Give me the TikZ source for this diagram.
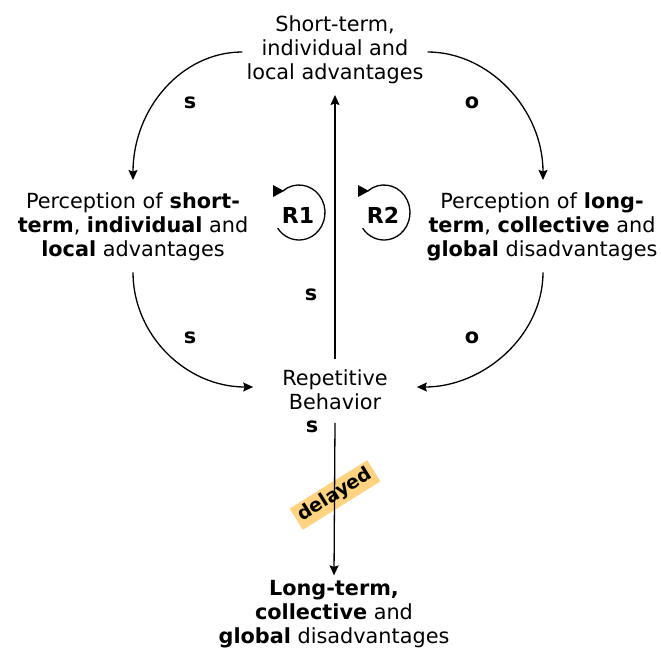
\documentclass[tikz,border=0pt]{standalone}
\usepackage{fontspec}
\setmainfont{DejaVu Sans}
\usetikzlibrary{arrows.meta,calc}
\definecolor{delayfill}{HTML}{FFD37F}
\pgfdeclarelayer{background}
\pgfsetlayers{background,main}
\tikzset{
  txt/.style={align=center,inner sep=0pt,font=\fontsize{20.8}{24}\selectfont},
  lbl/.style={inner sep=0pt,font=\fontsize{20.8}{24}\selectfont\bfseries},
  rlbl/.style={inner sep=0pt,font=\fontsize{22}{26}\selectfont\bfseries},
  arr/.style={line width=1.3pt,-{Stealth[length=10pt,width=9pt,inset=1.5pt]}},
  loopline/.style={line width=1.3pt},
  delaybox/.style={inner xsep=3.5pt,inner ysep=3pt,rotate=32,font=\fontsize{19}{21}\selectfont\bfseries}
}
\begin{document}
\begin{tikzpicture}[x=1pt,y=-1pt]
\useasboundingbox (0,0) rectangle (661,651);
% nodes
\node[txt] (top) at (335,50) {Short-term,\\individual and\\local advantages};
\node[txt] (left) at (133,227) {Perception of \textbf{short-}\\\textbf{term}, \textbf{individual} and\\\textbf{local} advantages};
\node[txt] (right) at (542,227) {Perception of \textbf{long-}\\\textbf{term}, \textbf{collective} and\\\textbf{global} disadvantages};
\node[txt] (rep) at (335,390) {Repetitive\\Behavior};
\node[txt] (bot) at (334,614) {\textbf{Long-term,}\\\textbf{collective} and\\\textbf{global} disadvantages};
% connectors
\draw[arr] ([shift={(-4,2)}]top.west) .. controls +(-61,0) and +(0,-71) .. ([shift={(0,-12.7)}]left.north);
\draw[arr] ([shift={(4,2)}]top.east) .. controls +(61,0) and +(0,-71) .. ([shift={(1,-12.7)}]right.north);
\draw[arr] ([shift={(0,11)}]left.south) .. controls +(0,63) and +(-67,0) .. ([shift={(-29,-3)}]rep.west);
\draw[arr] ([shift={(1,11)}]right.south) .. controls +(0,63) and +(67,0) .. ([shift={(29,-3)}]rep.east);
\draw[arr] ([shift={(0,-10.6)}]rep.north) -- ([shift={(0,10.7)}]top.south);
\draw[arr] ([shift={(0,12.6)}]rep.south) -- ([shift={(0,-4.6)}]bot.north);
% polarity labels
\node[lbl] (s1) at (190,103) {s};
\node[lbl] (o1) at (472,103) {o};
\node[lbl] (s2) at (311,295) {s};
\node[lbl] (s3) at (190,338) {s};
\node[lbl] (o2) at (472,338) {o};
\node[lbl] (s4) at (312,427) {s};
% delayed tag (fill behind the line, text above it)
\node[delaybox] (delay) at (335,495) {delayed};
\begin{pgfonlayer}{background}
\fill[delayfill] (delay.north west) -- (delay.north east) -- (delay.south east) -- (delay.south west) -- cycle;
\end{pgfonlayer}
% loop markers
\node[rlbl] (r1) at (298,215) {R1};
\node[rlbl] (r2) at (383,215) {R2};
\draw[loopline] (299,212.5) ++(232:26 and 27.5) arc[start angle=232,end angle=505,x radius=26,y radius=27.5];
\fill (273,185) -- (273,197) -- (284,191) -- cycle;
\draw[loopline] (384,212.5) ++(232:26 and 27.5) arc[start angle=232,end angle=505,x radius=26,y radius=27.5];
\fill (358,185) -- (358,197) -- (369,191) -- cycle;
\end{tikzpicture}
\end{document}
